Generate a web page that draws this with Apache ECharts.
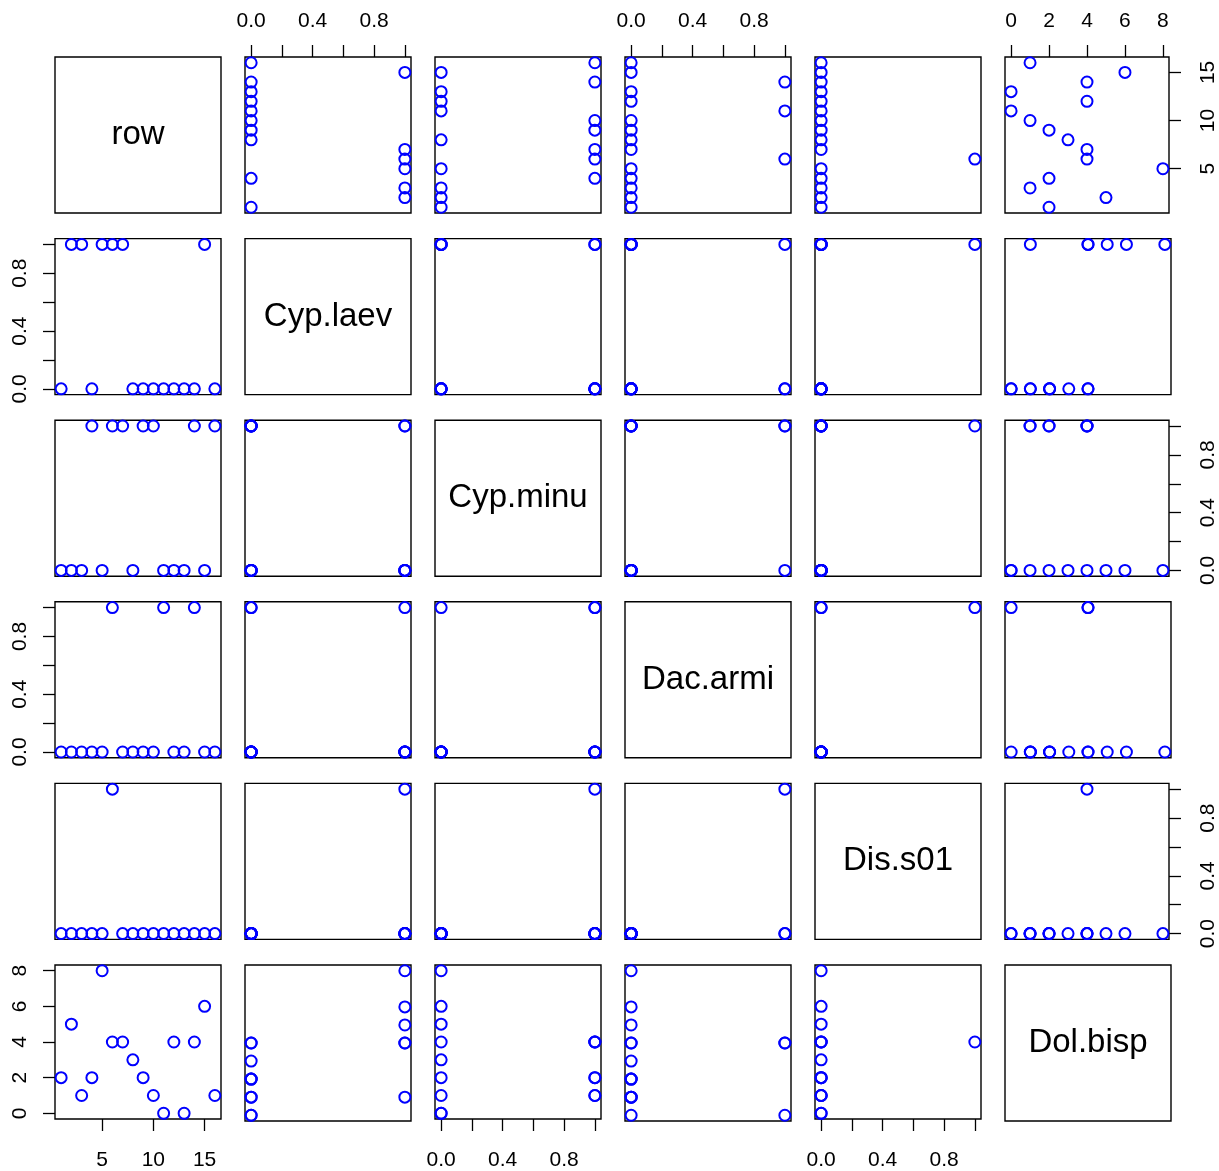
<!DOCTYPE html>
<html>
<head>
<meta charset="utf-8">
<title>Scatterplot matrix</title>
<script src="https://cdn.jsdelivr.net/npm/echarts@6/dist/echarts.min.js"></script>
<style>
  html, body { margin: 0; padding: 0; background: #ffffff; }
  #chart { width: 1219px; height: 1171px; }
</style>
</head>
<body>
<div id="chart"></div>
<script>
// Variable names in display order
const varNames = ['row', 'Cyp.laev', 'Cyp.minu', 'Dac.armi', 'Dis.s01', 'Dol.bisp'];

// Observations, one entry per row (16 rows)
const rowVals  = [1, 2, 3, 4, 5, 6, 7, 8, 9, 10, 11, 12, 13, 14, 15, 16];
const cypLaev  = [0, 1, 1, 0, 1, 1, 1, 0, 0, 0, 0, 0, 0, 0, 1, 0];
const cypMinu  = [0, 0, 0, 1, 0, 1, 1, 0, 1, 1, 0, 0, 0, 1, 0, 1];
const dacArmi  = [0, 0, 0, 0, 0, 1, 0, 0, 0, 0, 1, 0, 0, 1, 0, 0];
const disS01   = [0, 0, 0, 0, 0, 1, 0, 0, 0, 0, 0, 0, 0, 0, 0, 0];
const dolBisp  = [2, 5, 1, 2, 8, 4, 4, 3, 2, 1, 0, 4, 0, 4, 6, 1];

// Tick marks and labelled ticks for each kind of axis
const rowTicks = [5, 10, 15];
const binTicks = [0, 0.2, 0.4, 0.6, 0.8, 1.0];
const binLabels = [0, 0.4, 0.8];
const dolTicks = [0, 2, 4, 6, 8];

const columns = [rowVals, cypLaev, cypMinu, dacArmi, disS01, dolBisp];
const tickSets = [
  { ticks: rowTicks, labels: rowTicks, digits: 0 },
  { ticks: binTicks, labels: binLabels, digits: 1 },
  { ticks: binTicks, labels: binLabels, digits: 1 },
  { ticks: binTicks, labels: binLabels, digits: 1 },
  { ticks: binTicks, labels: binLabels, digits: 1 },
  { ticks: dolTicks, labels: dolTicks, digits: 0 }
];

// Axis range: data extent widened by 4% on each side
function extent(arr) {
  const lo = Math.min.apply(null, arr), hi = Math.max.apply(null, arr);
  const pad = (hi - lo) * 0.04;
  return [lo - pad, hi + pad];
}

const FONT = '"Liberation Sans", Arial, Helvetica, sans-serif';
const N = varNames.length;
const panelLeft = j => 55 + 190 * j;
const panelTop = i => 57 + 181.6 * i;
const PW = 166, PH = 156;

const grids = [], xAxes = [], yAxes = [], series = [], graphics = [];

// Label distance from the panel edge, per side
const labelMargin = { top: 25, bottom: 31, left: 24, right: 29 };

function axisDef(kind, v, show, position, idx) {
  const r = extent(columns[v]);
  const t = tickSets[v];
  const isY = kind === 'y';
  return {
    type: 'value',
    gridIndex: idx,
    min: r[0],
    max: r[1],
    position: position,
    show: true,
    splitLine: { show: false },
    axisLine: { show: false, onZero: false },
    axisTick: {
      show: show,
      inside: false,
      length: 12,
      customValues: t.ticks,
      lineStyle: { color: '#000', width: 1.3 }
    },
    axisLabel: {
      show: show,
      customValues: t.labels,
      margin: labelMargin[position],
      rotate: isY ? 90 : 0,
      color: '#000',
      fontFamily: FONT,
      fontSize: 21,
      formatter: val => Number(val).toFixed(t.digits)
    }
  };
}

let idx = 0;
for (let i = 0; i < N; i++) {
  for (let j = 0; j < N; j++) {
    grids.push({
      left: panelLeft(j), top: panelTop(i), width: PW, height: PH,
      show: true, borderColor: '#000', borderWidth: 1.4, backgroundColor: 'transparent',
      containLabel: false
    });
    const topAxis = i === 0 && j % 2 === 1;
    const bottomAxis = i === N - 1 && j % 2 === 0;
    const leftAxis = j === 0 && i % 2 === 1;
    const rightAxis = j === N - 1 && i % 2 === 0;
    xAxes.push(axisDef('x', j, topAxis || bottomAxis, topAxis ? 'top' : 'bottom', idx));
    yAxes.push(axisDef('y', i, leftAxis || rightAxis, rightAxis ? 'right' : 'left', idx));

    if (i === j) {
      graphics.push({
        type: 'text',
        x: panelLeft(j) + PW / 2,
        y: panelTop(i) + PH / 2,
        style: {
          text: varNames[i],
          font: '33px ' + FONT,
          fill: '#000',
          align: 'center',
          verticalAlign: 'middle'
        }
      });
    } else {
      const xs = columns[j], ys = columns[i];
      series.push({
        type: 'scatter',
        xAxisIndex: idx,
        yAxisIndex: idx,
        symbol: 'circle',
        symbolSize: 11,
        silent: true,
        itemStyle: { color: 'rgba(0,0,0,0)', borderColor: '#0000ff', borderWidth: 2, opacity: 1 },
        data: xs.map((x, k) => [x, ys[k]])
      });
    }
    idx++;
  }
}

const chart = echarts.init(document.getElementById('chart'), null, { renderer: 'canvas' });
chart.setOption({
  animation: false,
  backgroundColor: '#ffffff',
  grid: grids,
  xAxis: xAxes,
  yAxis: yAxes,
  series: series,
  graphic: graphics
});
</script>
</body>
</html>
